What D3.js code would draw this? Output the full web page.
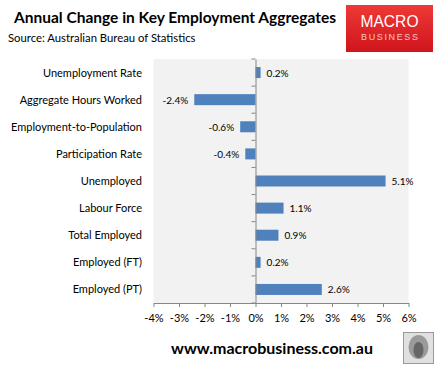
<!DOCTYPE html>
<html><head><meta charset="utf-8">
<script src="https://cdn.jsdelivr.net/npm/d3@7"></script>
<style>body{margin:0;background:#fff}svg{display:block}</style>
</head><body><svg id="c" width="441" height="370"></svg>
<script>
const categories = ["Unemployment Rate","Aggregate Hours Worked","Employment-to-Population","Participation Rate","Unemployed","Labour Force","Total Employed","Employed (FT)","Employed (PT)"];
const values = [0.2,-2.4,-0.6,-0.4,5.1,1.1,0.9,0.2,2.6];
const xTicks = [-4,-3,-2,-1,0,1,2,3,4,5,6];
const title = "Annual Change in Key Employment Aggregates";
const source = "Source: Australian Bureau of Statistics";
const site = "www.macrobusiness.com.au";

const F = "Lato, 'Open Sans', sans-serif";
const svg = d3.select("#c");
const x = d3.scaleLinear().domain([-4,6]).range([153.5,408.5]);
const yb = d3.scaleBand().domain(categories).range([59,303]);

// plot background
svg.append("rect").attr("x",x(-4)).attr("y",59).attr("width",x(6)-x(-4)).attr("height",244).attr("fill","#f2f2f2");

// bars
svg.selectAll(".bar").data(values).join("rect")
  .attr("x",d=>x(Math.min(0,d))).attr("width",d=>Math.abs(x(d)-x(0)))
  .attr("y",(d,i)=>yb(categories[i])+yb.bandwidth()/2-5.5).attr("height",11)
  .attr("fill","#4f81bd");

// value labels
svg.selectAll(".vl").data(values).join("text")
  .attr("x",d=>d>=0?x(d)+6:x(d)-6)
  .attr("y",(d,i)=>yb(categories[i])+yb.bandwidth()/2+4)
  .attr("text-anchor",d=>d>=0?"start":"end")
  .attr("font-family",F).attr("font-size",10).attr("fill","#000")
  .text(d=>d.toFixed(1)+"%");

// x axis
const xa = svg.append("g").attr("transform","translate(0,303)")
  .call(d3.axisBottom(x).tickValues(xTicks).tickSize(4).tickSizeOuter(0).tickFormat(d=>d+"%"));
xa.select(".domain").attr("stroke","#868686");
xa.selectAll(".tick line").attr("stroke","#868686");
xa.selectAll("text").attr("font-family",F).attr("font-size",11).attr("fill","#000").attr("dy","1.1em");

// y axis at zero
const ya = svg.append("g").attr("transform",`translate(${x(0)},0)`)
  .call(d3.axisLeft(yb).tickSize(0).tickFormat(""));
ya.select(".domain").attr("stroke","#868686");
const bounds = categories.map(c=>yb(c)).concat([303]);
svg.append("g").selectAll("line").data(bounds).join("line")
  .attr("x1",x(0)-4).attr("x2",x(0)).attr("y1",d=>d).attr("y2",d=>d).attr("stroke","#868686");

// category labels
svg.selectAll(".cl").data(categories).join("text")
  .attr("x",142).attr("y",c=>yb(c)+yb.bandwidth()/2+4)
  .attr("text-anchor","end").attr("font-family",F).attr("font-size",11).attr("fill","#000")
  .text(c=>c);

// title
svg.append("text").attr("x",14).attr("y",23).attr("font-family",F).attr("font-weight","bold")
  .attr("font-size",15.5).attr("fill","#000").text(title);
svg.append("text").attr("x",8).attr("y",42).attr("font-family",F).attr("font-size",11.3).attr("fill","#000").text(source);

// logo
const defs = svg.append("defs");
const g = defs.append("linearGradient").attr("id","lg").attr("x1",0).attr("y1",0).attr("x2",0).attr("y2",1);
g.append("stop").attr("offset",0).attr("stop-color","#ee3a36");
g.append("stop").attr("offset",1).attr("stop-color","#d0141c");
svg.append("rect").attr("x",346).attr("y",5).attr("width",87).attr("height",47).attr("fill","url(#lg)");
svg.append("text").attr("x",389.5).attr("y",27).attr("text-anchor","middle").attr("font-family","'Liberation Sans', Arial, sans-serif")
  .attr("font-size",16.5).attr("textLength",58).attr("lengthAdjust","spacingAndGlyphs").attr("fill","#fff").text("MACRO");
svg.append("text").attr("x",389.5).attr("y",40).attr("text-anchor","middle").attr("font-family","'Liberation Sans', Arial, sans-serif")
  .attr("font-size",9).attr("textLength",57).attr("lengthAdjust","spacing").attr("fill","#f7c8c8").text("BUSINESS");

// footer
svg.append("text").attr("x",272).attr("y",354).attr("text-anchor","middle").attr("font-family",F)
  .attr("font-weight","bold").attr("font-size",16).attr("fill","#000").text(site);

// wolf box
svg.append("rect").attr("x",403.5).attr("y",332.5).attr("width",30).attr("height",31).attr("fill","#e0e0e0").attr("stroke","#9a9a9a");
svg.append("ellipse").attr("cx",418.5).attr("cy",347).attr("rx",10).attr("ry",12).attr("fill","#9a9a9a");
svg.append("ellipse").attr("cx",418.5).attr("cy",350).attr("rx",5).attr("ry",8).attr("fill","#666");
</script></body></html>
